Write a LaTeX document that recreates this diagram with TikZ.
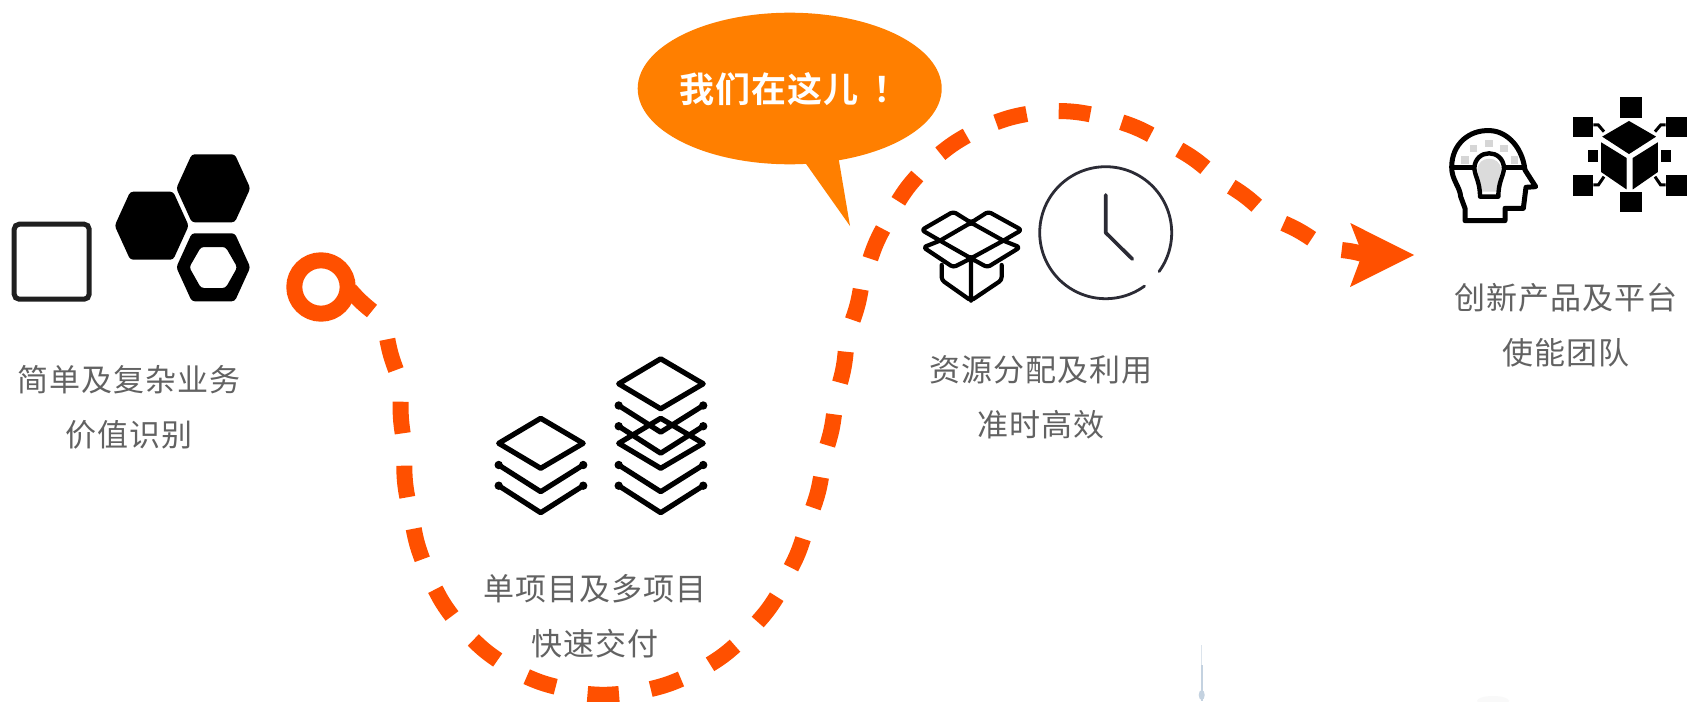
\documentclass[tikz,border=0pt]{standalone}
\usepackage{fontspec}
\newfontfamily\labelfont[LetterSpace=3.5]{Noto Sans CJK SC}
\newfontfamily\callfont[LetterSpace=3,BoldFont={Noto Sans CJK SC Bold}]{Noto Sans CJK SC}
\definecolor{trail}{HTML}{FF5000}
\definecolor{bubble}{HTML}{FF7F00}
\definecolor{caption}{HTML}{626262}
\definecolor{clockink}{HTML}{2B2B35}
\definecolor{faint}{HTML}{C4D2E0}
\tikzset{
  trailline/.style={draw=trail,line width=16pt,line cap=butt},
  caplabel/.style={font=\labelfont\fontsize{31}{55}\selectfont,text=caption,align=center,inner sep=0pt},
  iconline/.style={draw=black,line width=4pt,line join=round,line cap=round},
  stack/.pic={
    \draw[iconline,line width=5.2pt] (0,-25) -- (42.5,0) -- (0,25) -- (-42,0) -- cycle;
    \draw[iconline,line width=5.2pt] (-42,21.7) -- (0,48.4) -- (42.5,21.7);
    \draw[iconline,line width=5.2pt] (-42,42.4) -- (0,69.4) -- (42.5,42.4);
    \fill[black] (-42,21.7) circle (4.2) (42.5,21.7) circle (4.2) (-42,42.4) circle (4.2) (42.5,42.4) circle (4.2);
  },
  hexshape/.pic={
    \fill[black,rounded corners=3pt] (-37,0) -- (-21.5,-34) -- (21.5,-34) -- (37,0) -- (21.5,34) -- (-21.5,34) -- cycle;
  }
}
\begin{document}
\begin{tikzpicture}[x=1pt,y=-1pt]
\useasboundingbox (0,0) rectangle (1688,701);
\fill[white] (0,0) rectangle (1688,701);

% faint marks at the lower edge
\draw[draw=faint!60,line width=1.4pt] (1201.7,645) -- (1201.7,680);
\draw[draw=faint,line width=2pt] (1201.7,665) -- (1201.7,701);
\fill[faint] (1201.7,695) ellipse (3 and 5);
\fill[gray!5] (1493,701) ellipse (16 and 5);

% dashes of the trail
\coordinate (ringcentre) at (321,287);
\draw[trail,line width=16pt] (ringcentre) circle (26.7);
\begin{scope}[every to/.style={bend right=5}]
\draw[trailline] (350,290) to (372,311)
  (387.3,339.3) to (396,370)
  (400.7,401.7) to (402.7,433.3)
  (404.3,465.7) to (407.3,497.3)
  (413.7,528.7) to (422.3,559.3)
  (435.3,589.3) to (452,616)
  (473.3,640) to (497.7,660)
  (526.7,676.7) to (555.7,686.7)
  (587.5,694) to (619,694)
  (650.7,689) to (681,679)
  (710,664.3) to (735,645.7)
  (757.7,622) to (776.7,596.7)
  (791,567.7) to (803,538.7)
  (813,507.7) to (821,477.3)
  (827.3,445.3) to (834,414.3)
  (840,382.7) to (845.7,351.7)
  (852.7,320) to (860.7,289.3);
\end{scope}
\begin{scope}[every to/.style={bend left=5}]
\draw[trailline] (870.3,258.7) to (883,229)
  (898.3,201.3) to (917.3,176)
  (940.3,153.7) to (966.7,135.7)
  (996,122.3) to (1026.7,114)
  (1058.7,111) to (1090.3,114.3)
  (1121.7,122.3) to (1150.7,134.7)
  (1179.3,149.7) to (1205.3,167.7)
  (1231.3,186.7) to (1256.7,205.7)
  (1283.7,223.3) to (1311.7,238.7)
  (1341.7,250) to (1366,255);
\end{scope}
\fill[trail] (1414,255) -- (1350.3,223) -- (1362.3,254) -- (1350,287) -- cycle;

% callout
\fill[bubble] (803.3,160) -- (850,226) -- (838,155) -- cycle;
\fill[bubble] (789.7,88.5) ellipse (152 and 75.8);
\node[inner sep=0pt,text=white,font=\callfont\bfseries\fontsize{35}{40}\selectfont] (callout) at (794,89) {我们在这儿\hspace{15pt}！};

% icon: square and hexagons
\draw[draw=black!88,line width=5pt,rounded corners=5pt] (14.2,224.2) rectangle (89.2,299.2);
\pic at (151.7,225.7) {hexshape};
\pic at (213.3,188.3) {hexshape};
\fill[black,even odd rule,rounded corners=3pt]
  (176.3,267.3) -- (191.8,233.3) -- (234.8,233.3) -- (250.3,267.3) -- (234.8,301.3) -- (191.8,301.3) -- cycle
  (189.3,267.3) -- (201,247) -- (225.6,247) -- (237.3,267.3) -- (225.6,288) -- (201,288) -- cycle;

% icon: layer stacks
\pic at (540.7,443.3) {stack};
\pic at (660.7,383.8) {stack};
\pic at (660.7,443.3) {stack};

% icon: open box
\begin{scope}[shift={(900,150)},x=0.3333pt,y=-0.3333pt]
\draw[iconline,line width=4.2pt,rounded corners=3pt]
  (65,240) -- (160,185) -- (213,218) -- (265,185) -- (365,240) -- (310,272) -- (213,325) -- (120,272) -- cycle
  (120,272) -- (213,218) -- (310,272)
  (120,272) -- (70,292) -- (160,352) -- (213,325) -- (262,352) -- (360,292) -- (310,272)
  (125,345) -- (125,390) -- (213,452) -- (305,390) -- (305,345)
  (213,325) -- (213,452);
\end{scope}

% icon: clock
\draw[draw=clockink,line width=2.8pt,line cap=round]
  plot[smooth,domain=54:396,samples=70] ({1105.7+66*cos(\x)},{232.7+66*sin(\x)});
\draw[draw=clockink,line width=3.6pt,line cap=round,line join=round]
  (1105.7,195) -- (1105.7,232.7) -- (1132.3,259);

% icon: head with bulb
\begin{scope}[shift={(1420,80)},x=0.3333pt,y=-0.3333pt]
\fill[gray!28] (172,270) .. controls (172,225) and (243,225) .. (243,270) -- (228,335) -- (187,335) -- cycle;
\foreach \gx/\gy in {135/240,160/205,207/190,252/205,283/240}
  \fill[gray!32] (\gx-11,\gy-11) rectangle (\gx+11,\gy+11);
\draw[iconline,line width=5pt]
  (135,422) -- (255,422) -- (255,385) -- (310,385) -- (318,322) -- (347,320) -- (315,270)
  .. controls (305,190) and (250,150) .. (205,152)
  .. controls (150,150) and (95,190) .. (95,262)
  .. controls (95,300) and (120,320) .. (122,350) -- (135,385) -- cycle;
\draw[iconline,line width=4.4pt] (100,262) -- (160,262) (252,262) -- (312,262);
\draw[iconline,line width=4.4pt]
  (163,265) .. controls (165,205) and (250,205) .. (252,265)
  .. controls (250,290) and (235,305) .. (235,350) -- (180,350)
  .. controls (180,305) and (165,290) .. (163,265);
\end{scope}

% icon: cube network
\begin{scope}[shift={(1420,80)},x=0.3333pt,y=-0.3333pt]
\foreach \qa/\qb/\qc/\qd in {600/52/665/115,458/110/520/172,737/110/800/172,458/285/520/347,737/285/800/347,600/335/665/397,505/210/535/245,722/210/752/245}
  \fill[black] (\qa,\qb) rectangle (\qc,\qd);
\filldraw[black,line width=1.2pt] (627,125) -- (705,170) -- (627,220) -- (550,170) -- cycle;
\filldraw[black,line width=1.2pt] (545,190) -- (618,235) -- (618,325) -- (545,275) -- cycle;
\filldraw[black,line width=1.2pt] (640,235) -- (712,190) -- (712,275) -- (640,325) -- cycle;
\draw[black,line width=3pt] (520,135) -- (535,135) -- (552,155)
  (737,135) -- (722,135) -- (705,155)
  (520,315) -- (535,315) -- (552,290)
  (737,315) -- (722,315) -- (705,290);
\end{scope}

% captions
\node[caplabel] (capa) at (129,407.5) {简单及复杂业务\\价值识别};
\node[caplabel] (capb) at (595,616.5) {单项目及多项目\\快速交付};
\node[caplabel] (capc) at (1041,397) {资源分配及利用\\准时高效};
\node[caplabel] (capd) at (1566,325) {创新产品及平台\\使能团队};
\end{tikzpicture}
\end{document}
